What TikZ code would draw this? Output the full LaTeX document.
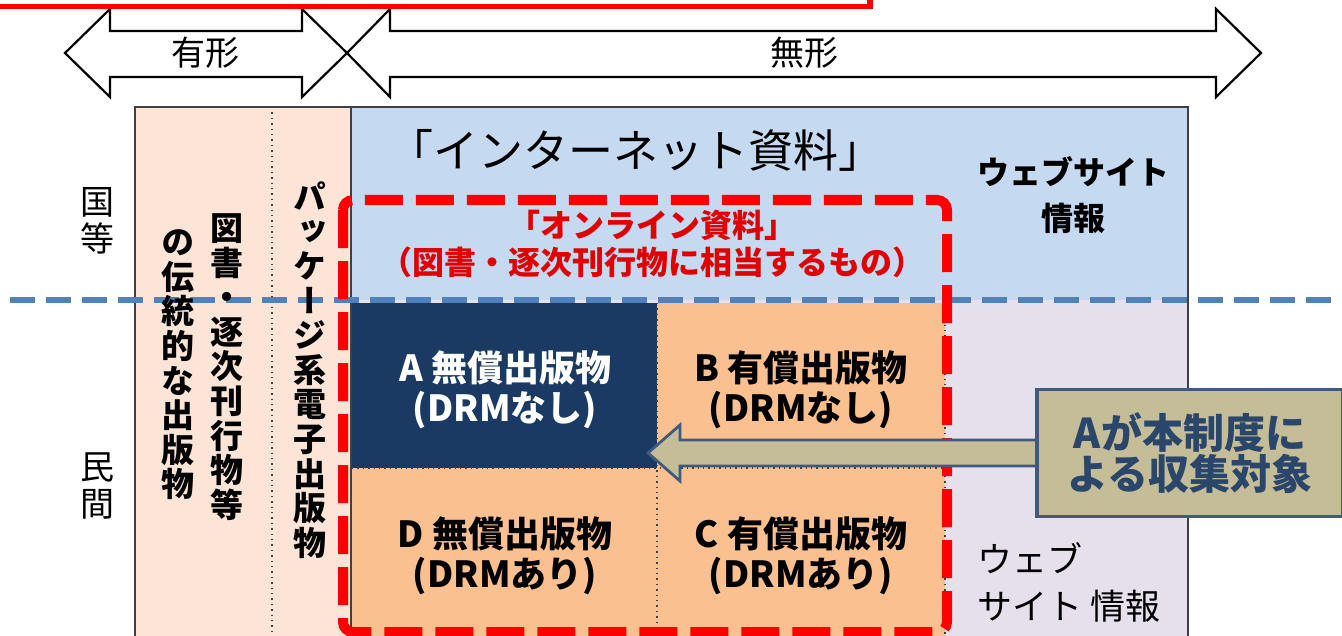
\documentclass[tikz,border=0pt]{standalone}
\usepackage{fontspec}
\setmainfont{Noto Sans CJK JP}
\newfontfamily\jpv[RawFeature=+vert]{Noto Sans CJK JP}
\usetikzlibrary{calc}
\definecolor{peach}{HTML}{FCE4D6}
\definecolor{topblue}{HTML}{C5D9F1}
\definecolor{lav}{HTML}{E6E0EC}
\definecolor{navy}{HTML}{1B3A63}
\definecolor{orng}{HTML}{FAC090}
\definecolor{dashblue}{HTML}{4F81BD}
\definecolor{khaki}{HTML}{C4BD97}
\definecolor{slate}{HTML}{3E5A7E}
\definecolor{slatetxt}{HTML}{2B466B}
\definecolor{framec}{HTML}{404040}
\definecolor{redtxt}{HTML}{E00000}
\newcommand\myfs[2]{\fontsize{#1}{#2}\selectfont}
\tikzset{
  txt/.style={inner sep=0pt, align=center},
  celltxt/.style={txt, font=\myfs{18}{20}\bfseries},
  vstack/.style={txt, font=\jpv\myfs{16.5}{17.3}\bfseries},
  sidelbl/.style={txt, font=\jpv\myfs{17}{18.5}},
  dotline/.style={draw=framec, line width=0.7pt, dotted},
  dblarrow/.style={draw=black, fill=white, line width=1.1pt, line join=miter},
  blockarr/.style={draw=slate, fill=khaki, line width=1.4pt, line join=miter},
  calloutbox/.style={txt, draw=slate, fill=khaki, line width=1.6pt,
    minimum width=153pt, minimum height=63.5pt, text=slatetxt, font=\myfs{20.5}{18.5}\bfseries},
}
\begin{document}
\begin{tikzpicture}[x=0.5pt,y=-0.5pt]
\useasboundingbox (0,0) rectangle (1342,636);
\clip (0,0) rectangle (1342,636);
\fill[white] (0,0) rectangle (1342,636);
% columns
\fill[peach] (135,107) rectangle (351,650);
\fill[topblue] (351,107) rectangle (1188,300);
\fill[lav] (351,300) rectangle (1188,650);
% cells
\fill[navy] (352,303) rectangle (657,468);
\fill[orng] (657,303) rectangle (945,468);
\fill[orng] (352,468) rectangle (657,650);
\fill[orng] (657,468) rectangle (945,650);
\draw[dotline] (657,303) -- (657,650);
\draw[dotline] (352,468) -- (945,468);
\draw[dotline] (945,303) -- (945,650);
\draw[dotline] (272,107) -- (272,650);
% frame
\draw[framec, line width=1.1pt] (135,650) -- (135,107) -- (1188,107) -- (1188,650);
\draw[framec, line width=1.1pt] (351,107) -- (351,650);
% blue dashed line
\draw[dashblue, line width=2.6pt, dash pattern=on 12.5pt off 5.5pt] (10,300) -- (1342,300);
% red dashed rounded rectangle
\draw[red, line width=5pt, dash pattern=on 19pt off 6.5pt, rounded corners=5pt] (343,200) rectangle (947,632);
% texts
\node[txt, font=\myfs{22.5}{27}] (inet) at (636,150) {「インターネット資料」};
\node[txt, text=redtxt, font=\myfs{16}{18.5}\bfseries] (online) at (652,244) {「オンライン資料」\\（図書・逐次刊行物に相当するもの）};
\node[txt, font=\myfs{16}{23}\bfseries] (web1) at (1073,195) {ウェブサイト\\情報};
\node[txt, align=left, anchor=west, font=\myfs{17.5}{23.5}] (web2) at (977,582) {ウェブ\\サイト 情報};
\node[celltxt, text=white] (tA) at (505,390) {A 無償出版物\\(DRMなし)};
\node[celltxt] (tB) at (801,390) {B 有償出版物\\(DRMなし)};
\node[celltxt] (tD) at (505,556) {D 無償出版物\\(DRMあり)};
\node[celltxt] (tC) at (801,556) {C 有償出版物\\(DRMあり)};
% side labels
\node[sidelbl] (kuni) at (97,221) {国\\等};
\node[sidelbl] (min) at (97,486) {民\\間};
% vertical texts
\node[vstack] (col1a) at (227,367) {図\\書\\・\\逐\\次\\刊\\行\\物\\等};
\node[vstack] (col1b) at (178,365) {の\\伝\\統\\的\\な\\出\\版\\物};
\node[vstack] (col2) at (310,370) {パ\\ッ\\ケ\\ー\\ジ\\系\\電\\子\\出\\版\\物};
% callout and arrow
\node[calloutbox] (call) at (1190,453) {Aが本制度に\\よる収集対象};
\coordinate (tip) at (648,453);
\draw[blockarr] (call.west |- 0,440) -- (680,440) -- (680,425) -- (tip) -- (680,481) -- (680,466) -- (call.west |- 0,466);
\node[calloutbox] (call2) at (call) {Aが本制度に\\よる収集対象};
% top double arrows
\draw[dblarrow] (65,53) -- (110,9) -- (110,31) -- (302,31) -- (302,9) -- (347,53) -- (302,97) -- (302,77) -- (110,77) -- (110,97) -- cycle;
\draw[dblarrow] (347,53) -- (390,9) -- (390,31) -- (1216,31) -- (1216,9) -- (1261,53) -- (1216,97) -- (1216,77) -- (390,77) -- (390,97) -- cycle;
\node[txt, font=\myfs{17}{20}] (yukei) at (205,53) {有形};
\node[txt, font=\myfs{17}{20}] (mukei) at (804,53) {無形};
% top red box
\draw[red, line width=2.6pt] (-20,-20) rectangle (870,6.5);
\end{tikzpicture}
\end{document}
